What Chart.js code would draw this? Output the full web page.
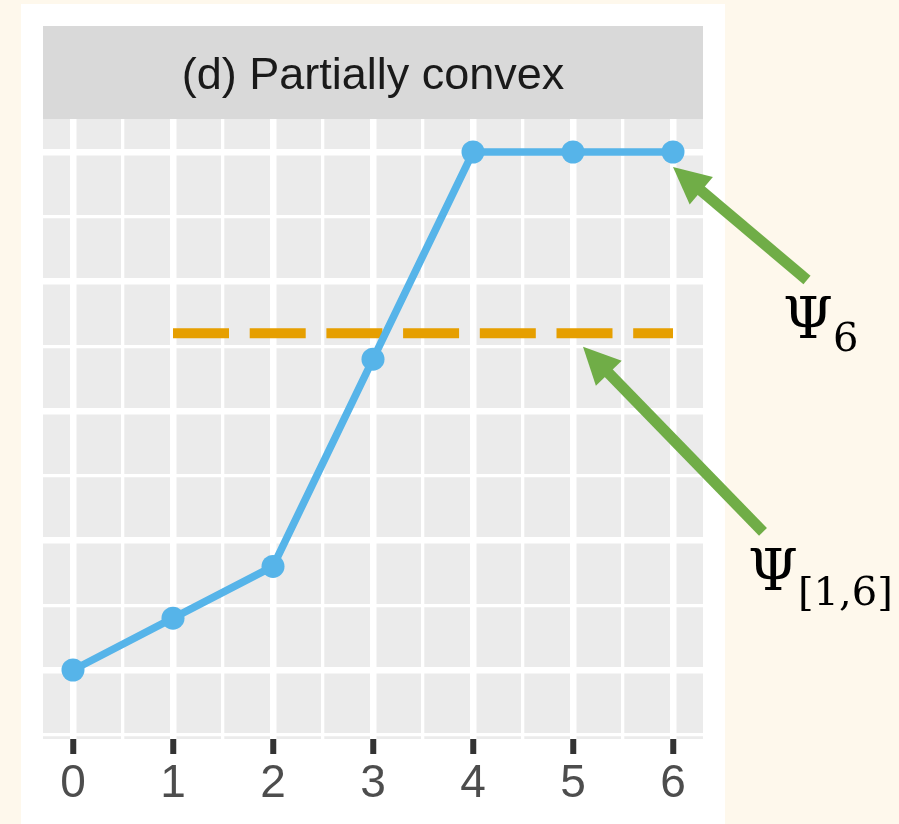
<!DOCTYPE html>
<html>
<head>
<meta charset="utf-8">
<script src="https://cdn.jsdelivr.net/npm/chart.js@4"></script>
<style>
  html, body { margin: 0; padding: 0; background: #FEF8EC; }
  #wrap { position: relative; width: 899px; height: 824px; overflow: hidden; }
  #card { position: absolute; left: 21px; top: 4px; width: 704px; height: 840px; background: #ffffff; }
  #c { position: absolute; left: 0; top: 0; }
  .psi { position: absolute; font-family: 'DejaVu Serif', 'Liberation Serif', serif; font-size: 57px; line-height: 57px; color: #000; white-space: nowrap; }
  .psi span { font-size: 40px; position: relative; }
</style>
</head>
<body>
<div id="wrap">
  <div id="card"></div>
  <canvas id="c" width="899" height="824"></canvas>
  <div class="psi" style="left:783px; top:290px;">Ψ<span style="top:13px">6</span></div>
  <div class="psi" style="left:748px; top:542px;">Ψ<span style="top:15px">[1,6]</span></div>
</div>
<script>
// Steps along the horizontal axis and the value reached at each step
const steps = [0, 1, 2, 3, 4, 5, 6];
const values = [0, 0.4, 0.8, 2.4, 4, 4, 4];

// Average level over steps 1..6, drawn as a dashed segment
const avgSpan = [1, 6];
const avgLevel = 2.6;

// Axis ticks
const xTickLabels = ['0', '1', '2', '3', '4', '5', '6'];
const xMinor = [0.5, 1.5, 2.5, 3.5, 4.5, 5.5];
const yMajor = [0, 1, 2, 3, 4];
const yMinor = [-0.5, 0.5, 1.5, 2.5, 3.5];

const isMajor = v => Math.abs(v - Math.round(v)) < 1e-9;

// Panel and strip backgrounds
const panelPlugin = {
  id: 'panel',
  beforeDraw(chart) {
    const { ctx, chartArea: a } = chart;
    ctx.save();
    ctx.fillStyle = '#D9D9D9';
    ctx.fillRect(a.left, a.top - 93, a.right - a.left, 93);
    ctx.fillStyle = '#EBEBEB';
    ctx.fillRect(a.left, a.top, a.right - a.left, a.bottom - a.top);
    ctx.restore();
  }
};

// Callout arrows, anchored to points on the chart
const arrows = [
  { at: [6, 4], tip: [0, 15], tail: [134, 113] },
  { at: [5, 2.6], tip: [10, 13.5], tail: [180, 185] }
];
const arrowPlugin = {
  id: 'arrows',
  afterDraw(chart) {
    const { ctx, scales } = chart;
    ctx.save();
    ctx.fillStyle = '#70AD47';
    ctx.strokeStyle = '#70AD47';
    for (const a of arrows) {
      const tx = scales.x.getPixelForValue(a.at[0]) + a.tip[0];
      const ty = scales.y.getPixelForValue(a.at[1]) + a.tip[1];
      const sx = tx + a.tail[0], sy = ty + a.tail[1];
      const len = Math.hypot(sx - tx, sy - ty);
      const ux = (sx - tx) / len, uy = (sy - ty) / len;
      const headLen = 37, headHalf = 18;
      const bx = tx + ux * headLen, by = ty + uy * headLen;
      ctx.lineWidth = 11;
      ctx.lineCap = 'butt';
      ctx.beginPath();
      ctx.moveTo(sx, sy);
      ctx.lineTo(bx - ux * 2, by - uy * 2);
      ctx.stroke();
      ctx.beginPath();
      ctx.moveTo(tx, ty);
      ctx.lineTo(bx - uy * headHalf, by + ux * headHalf);
      ctx.lineTo(bx + uy * headHalf, by - ux * headHalf);
      ctx.closePath();
      ctx.fill();
    }
    ctx.restore();
  }
};

new Chart(document.getElementById('c'), {
  type: 'line',
  data: {
    datasets: [
      {
        data: steps.map((x, i) => ({ x, y: values[i] })),
        borderColor: '#56B4E9',
        backgroundColor: '#56B4E9',
        borderWidth: 7.5,
        pointRadius: 11.5,
        pointBorderWidth: 0,
        pointBackgroundColor: '#56B4E9',
        order: 0
      },
      {
        data: avgSpan.map(x => ({ x, y: avgLevel })),
        borderColor: '#E69F00',
        borderWidth: 10,
        borderDash: [56, 20.7],
        borderCapStyle: 'butt',
        pointRadius: 0,
        order: 1
      }
    ]
  },
  options: {
    responsive: false,
    animation: false,
    events: [],
    layout: { padding: { left: 43, right: 196, top: 26, bottom: 0 } },
    plugins: {
      legend: { display: false },
      tooltip: { enabled: false },
      title: {
        display: true,
        text: '(d) Partially convex',
        color: '#1A1A1A',
        font: { family: "'Liberation Sans', Arial, sans-serif", size: 45, weight: 'normal', lineHeight: 1.2 },
        padding: { top: 24, bottom: 15 }
      }
    },
    scales: {
      x: {
        type: 'linear',
        min: -0.3,
        max: 6.3,
        afterBuildTicks: s => { s.ticks = steps.concat(xMinor).sort((a, b) => a - b).map(v => ({ value: v })); },
        afterFit: s => { s.height = 85; },
        border: { display: false },
        grid: {
          color: '#FFFFFF',
          lineWidth: c => (c.tick && isMajor(c.tick.value)) ? 6.5 : 3.3,
          drawTicks: true,
          tickLength: 15,
          tickWidth: 6,
          tickColor: c => (c.tick && isMajor(c.tick.value)) ? '#333333' : 'rgba(0,0,0,0)'
        },
        ticks: {
          autoSkip: false,
          maxRotation: 0,
          padding: 3,
          color: '#4D4D4D',
          font: { family: "'Liberation Sans', Arial, sans-serif", size: 46 },
          callback: v => isMajor(v) ? xTickLabels[Math.round(v)] : ''
        }
      },
      y: {
        type: 'linear',
        min: -0.5328,
        max: 4.2548,
        afterBuildTicks: s => { s.ticks = yMinor.concat(yMajor).sort((a, b) => a - b).map(v => ({ value: v })); },
        afterFit: s => { s.width = 0; },
        border: { display: false },
        grid: {
          color: '#FFFFFF',
          lineWidth: c => (c.tick && isMajor(c.tick.value)) ? 6.5 : 3.3,
          drawTicks: false
        },
        ticks: { display: false }
      }
    }
  },
  plugins: [panelPlugin, arrowPlugin]
});
</script>
</body>
</html>
